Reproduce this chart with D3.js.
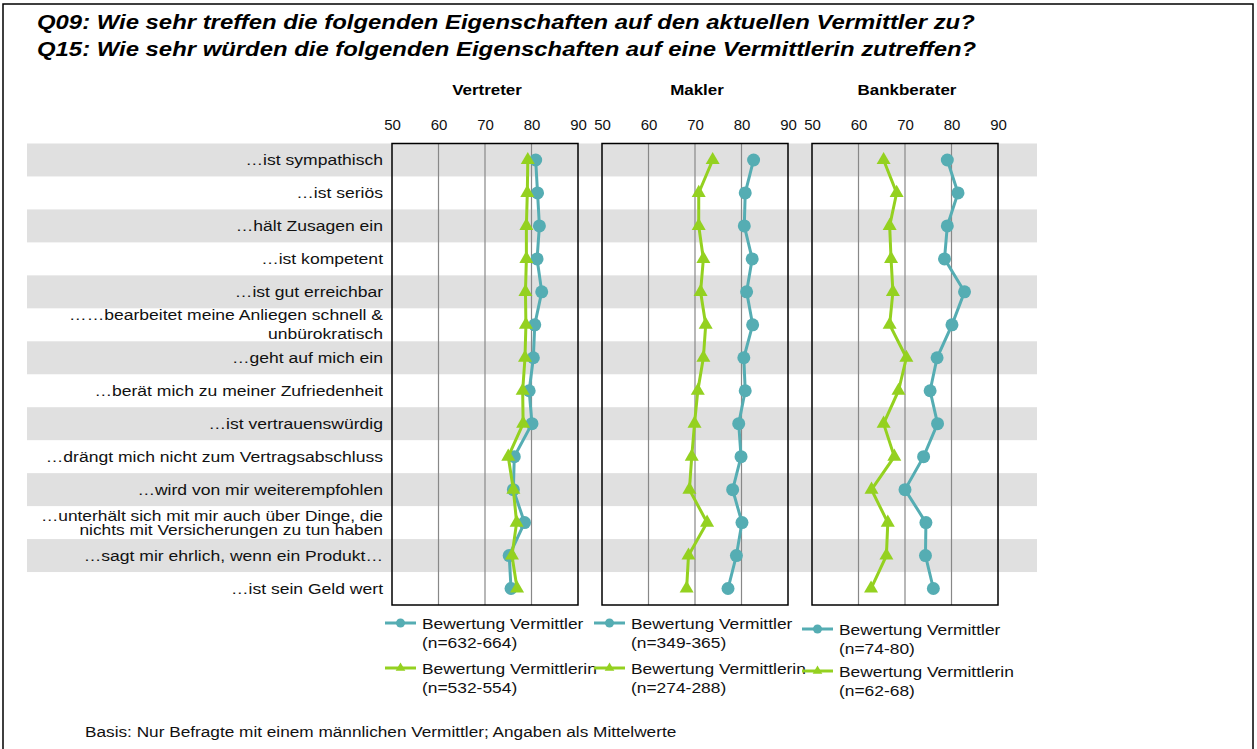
<!DOCTYPE html>
<html>
<head>
<meta charset="utf-8">
<script src="https://cdn.jsdelivr.net/npm/d3@7"></script>
<style>
  body { margin: 0; background: #fff; }
  svg { display: block; font-family: "Liberation Sans", Arial, sans-serif; }
</style>
</head>
<body>
<svg id="chart" width="1257" height="749"></svg>
<script>
// items (rows, top to bottom); multi-line labels split with |
const items = [
  '…ist sympathisch',
  '…ist seriös',
  '…hält Zusagen ein',
  '…ist kompetent',
  '…ist gut erreichbar',
  '……bearbeitet meine Anliegen schnell &|unbürokratisch',
  '…geht auf mich ein',
  '…berät mich zu meiner Zufriedenheit',
  '…ist vertrauenswürdig',
  '…drängt mich nicht zum Vertragsabschluss',
  '…wird von mir weiterempfohlen',
  '…unterhält sich mit mir auch über Dinge, die|nichts mit Versicherungen zu tun haben',
  '…sagt mir ehrlich, wenn ein Produkt…',
  '…ist sein Geld wert'
]

const panels = ['Vertreter', 'Makler', 'Bankberater']
const ticks = [50, 60, 70, 80, 90]

// Bewertung Vermittler (male, Q09)
const vertreterMale = [80.9, 81.3, 81.7, 81.2, 82.2, 80.7, 80.4, 79.5, 80.1, 76.3, 76.1, 78.5, 75.2, 75.6]
const maklerMale = [82.6, 80.8, 80.6, 82.3, 81.1, 82.4, 80.5, 80.8, 79.4, 79.9, 78.1, 80.1, 78.9, 77.1]
const bankMale = [79.1, 81.4, 79.1, 78.5, 82.8, 80.1, 76.9, 75.4, 77.0, 74.0, 70.0, 74.5, 74.4, 76.1]

// Bewertung Vermittlerin (female, Q15)
const vertreterFemale = [79.2, 79.1, 78.9, 78.9, 78.7, 78.8, 78.6, 78.1, 78.2, 75.0, 76.1, 76.8, 75.8, 76.9]
const maklerFemale = [73.8, 70.8, 70.8, 71.8, 71.2, 72.3, 71.8, 70.6, 69.9, 69.3, 68.8, 72.6, 68.6, 68.2]
const bankFemale = [65.4, 68.2, 66.7, 67.0, 67.4, 66.7, 70.3, 68.6, 65.4, 67.7, 62.8, 66.3, 66.0, 62.7]

const maleN = ['(n=632-664)', '(n=349-365)', '(n=74-80)']
const femaleN = ['(n=532-554)', '(n=274-288)', '(n=62-68)']

const maleSeries = [vertreterMale, maklerMale, bankMale]
const femaleSeries = [vertreterFemale, maklerFemale, bankFemale]

const teal = '#55adb3'
const green = '#94d120'

const svg = d3.select('#chart')

// text that is a bit wider than the installed font (the original was stretched)
function wideText (parent, x, y, str, sx, anchor) {
  return parent.append('text')
    .attr('transform', `translate(${x},${y}) scale(${sx},1)`)
    .attr('text-anchor', anchor || 'start')
    .text(str)
}

// outer frame
svg.append('rect')
  .attr('x', 3).attr('y', 4).attr('width', 1250).attr('height', 760)
  .attr('fill', 'none').attr('stroke', '#000').attr('stroke-width', 1.5)

// title
const title = svg.append('g')
  .style('font-size', '20.5px').style('font-weight', 'bold').style('font-style', 'italic')
wideText(title, 37, 29, 'Q09: Wie sehr treffen die folgenden Eigenschaften auf den aktuellen Vermittler zu?', 1.165)
wideText(title, 37, 56, 'Q15: Wie sehr würden die folgenden Eigenschaften auf eine Vermittlerin zutreffen?', 1.165)

const plotTop = 143.5
const plotBottom = 605
const y = d3.scaleBand().domain(d3.range(items.length)).range([plotTop, plotBottom]).padding(0)

// striped background bands
svg.append('g').selectAll('rect')
  .data(d3.range(items.length).filter(i => i % 2 === 0))
  .join('rect')
  .attr('x', 27)
  .attr('y', d => y(d))
  .attr('width', 1010)
  .attr('height', y.bandwidth())
  .attr('fill', '#e0e0e0')

// row labels
const labels = svg.append('g')
  .style('font-size', '15px')
  .attr('fill', '#111')
items.forEach((label, i) => {
  const lines = label.split('|')
  const cy = y(i) + y.bandwidth() / 2
  const gap = i === 11 ? 14 : 19
  lines.forEach((line, k) => {
    const t = wideText(labels, 383, cy + 5 + (k - (lines.length - 1) / 2) * gap, line, 1.17, 'end')
    if (i === 11) t.style('font-size', '14px').attr('transform', `translate(383,${cy + 5 + (k - 0.5) * gap}) scale(1.24,1)`)
  })
})

const panelX = [392, 602, 812]
const panelW = 186

panels.forEach((name, p) => {
  const x = d3.scaleLinear().domain([50, 90]).range([panelX[p], panelX[p] + panelW])
  const g = svg.append('g')

  // panel title
  wideText(g, x(70) + 2, 95, name, 1.13, 'middle')
    .style('font-size', '15px').style('font-weight', 'bold')

  // top axis
  const axis = g.append('g')
    .attr('transform', `translate(0,${plotTop - 14})`)
    .call(d3.axisTop(x).tickValues(ticks).tickSize(0).tickPadding(0))
  axis.select('.domain').remove()
  axis.selectAll('text').style('font-size', '15px').attr('fill', '#111')
    .style('font-family', '"Liberation Sans", Arial, sans-serif')

  // grid lines
  g.selectAll('.grid')
    .data([60, 70, 80])
    .join('line')
    .attr('x1', d => x(d)).attr('x2', d => x(d))
    .attr('y1', plotTop).attr('y2', plotBottom)
    .attr('stroke', '#888').attr('stroke-width', 1.2)

  // plot box
  g.append('rect')
    .attr('x', x(50)).attr('y', plotTop)
    .attr('width', x(90) - x(50)).attr('height', plotBottom - plotTop)
    .attr('fill', 'none').attr('stroke', '#000').attr('stroke-width', 1.5)

  const line = d3.line()
    .x(d => x(d))
    .y((d, i) => y(i) + y.bandwidth() / 2)

  // male series
  g.append('path')
    .datum(maleSeries[p])
    .attr('d', line)
    .attr('fill', 'none').attr('stroke', teal).attr('stroke-width', 3)
  g.selectAll('.dot')
    .data(maleSeries[p])
    .join('circle')
    .attr('cx', d => x(d))
    .attr('cy', (d, i) => y(i) + y.bandwidth() / 2)
    .attr('r', 6.5)
    .attr('fill', teal)

  // female series
  g.append('path')
    .datum(femaleSeries[p])
    .attr('d', line)
    .attr('fill', 'none').attr('stroke', green).attr('stroke-width', 3)
  const tri = d3.symbol().type(d3.symbolTriangle).size(85)
  g.selectAll('.tri')
    .data(femaleSeries[p])
    .join('path')
    .attr('d', tri)
    .attr('transform', (d, i) => `translate(${x(d)},${y(i) + y.bandwidth() / 2})`)
    .attr('fill', green)

  // legend
  const lx = [385, 594, 802][p]
  const ly = [623, 623, 629][p]
  const ly2 = [668, 668, 671][p]
  const leg = g.append('g').style('font-size', '14.5px').attr('fill', '#111')

  leg.append('line')
    .attr('x1', lx).attr('x2', lx + 31).attr('y1', ly).attr('y2', ly)
    .attr('stroke', teal).attr('stroke-width', 3)
  leg.append('circle').attr('cx', lx + 15.5).attr('cy', ly).attr('r', 4.5).attr('fill', teal)
  wideText(leg, lx + 37, ly + 6, 'Bewertung Vermittler', 1.2)
  wideText(leg, lx + 37, ly + 25, maleN[p], 1.2)

  leg.append('line')
    .attr('x1', lx).attr('x2', lx + 31).attr('y1', ly2).attr('y2', ly2)
    .attr('stroke', green).attr('stroke-width', 3)
  leg.append('path')
    .attr('d', d3.symbol().type(d3.symbolTriangle).size(40))
    .attr('transform', `translate(${lx + 15.5},${ly2})`)
    .attr('fill', green)
  wideText(leg, lx + 37, ly2 + 6, 'Bewertung Vermittlerin', 1.2)
  wideText(leg, lx + 37, ly2 + 25, femaleN[p], 1.2)
})

// footnote
svg.append('g').style('font-size', '14px').attr('fill', '#111')
  .call(g => wideText(g, 85, 737, 'Basis: Nur Befragte mit einem männlichen Vermittler; Angaben als Mittelwerte', 1.23))
</script>
</body>
</html>
